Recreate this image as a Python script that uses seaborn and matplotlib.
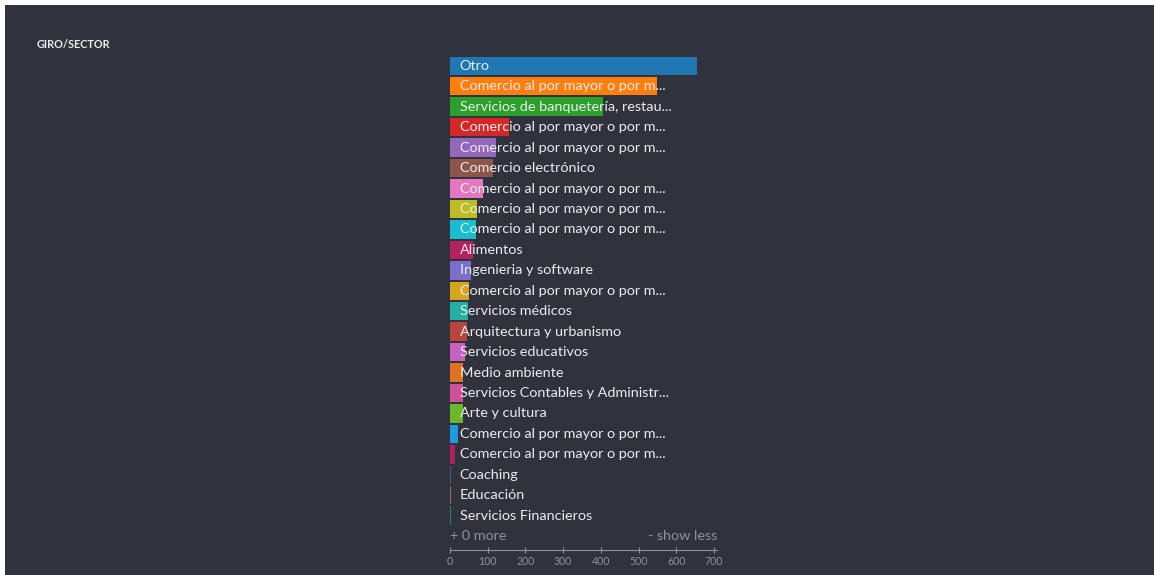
import matplotlib
matplotlib.use("Agg")
import matplotlib.pyplot as plt
import seaborn as sns
import pandas as pd

# ---- data ----
labels = [
    "Otro",
    "Comercio al por mayor o por m...",
    "Servicios de banquetería, restau...",
    "Comercio al por mayor o por m...",
    "Comercio al por mayor o por m...",
    "Comercio electrónico",
    "Comercio al por mayor o por m...",
    "Comercio al por mayor o por m...",
    "Comercio al por mayor o por m...",
    "Alimentos",
    "Ingenieria y software",
    "Comercio al por mayor o por m...",
    "Servicios médicos",
    "Arquitectura y urbanismo",
    "Servicios educativos",
    "Medio ambiente",
    "Servicios Contables y Administr...",
    "Arte y cultura",
    "Comercio al por mayor o por m...",
    "Comercio al por mayor o por m...",
    "Coaching",
    "Educación",
    "Servicios Financieros",
]
values = [655, 548, 405, 157, 122, 115, 88, 72, 68, 62, 56, 51, 49, 44, 40,
          35, 35, 34, 20, 13, 3, 3, 3]
colors = [
    "#1f77b4", "#ff7f0e", "#2ca02c", "#d62728", "#9467bd", "#8c564b",
    "#e377c2", "#bcbd22", "#17becf", "#b3215f", "#7b6fc9", "#d6a520",
    "#23b0a2", "#b9443b", "#c762c2", "#e07223", "#d0519b", "#6bb82d",
    "#1e9ade", "#b01f62", "#4a5582", "#9a6b3b", "#2a8272",
]
xticks = [0, 100, 200, 300, 400, 500, 600, 700]
title = "GIRO/SECTOR"
more_text = "+ 0 more"
less_text = "- show less"

BG = "#30333e"
W, H = 1154, 575

sns.set_theme(style="dark")
plt.rcParams["font.family"] = ["Lato", "DejaVu Sans"]

fig = plt.figure(figsize=(W / 100, H / 100), dpi=100)
fig.patch.set_facecolor(BG)
# small white margins at top and left
for r in [plt.Rectangle((0, 1 - 5 / H), 1, 5 / H),
          plt.Rectangle((0, 0), 5 / W, 1)]:
    r.set_transform(fig.transFigure)
    r.set_facecolor("white")
    r.set_edgecolor("none")
    r.set_linewidth(0)
    fig.add_artist(r)

# axes geometry in pixels
x0, x1 = 450, 717
y_top, y_axis = 55.6, 550.0
ax = fig.add_axes([x0 / W, 1 - y_axis / H, (x1 - x0) / W, (y_axis - y_top) / H])
ax.set_facecolor("none")

ids = [f"r{i}" for i in range(len(values))]
df = pd.DataFrame({"id": ids, "value": values, "label": labels})
sns.barplot(data=df, x="value", y="id", hue="id", palette=colors,
            orient="h", width=0.9, legend=False, ax=ax, saturation=1,
            linewidth=0, edgecolor="none")

row_step = 20.45
ax.set_ylim((y_axis - 65.8) / row_step, -(65.8 - y_top) / row_step)
ax.set_xlim(0, 708)

for i, lab in enumerate(labels):
    ax.text(26, i, lab, color="#ececec", fontsize=10.4, va="center",
            ha="left", zorder=5)

grey = "#8e919a"
ax.text(0, (535.5 - 65.8) / row_step, more_text, color=grey,
        fontsize=10.4, va="center", ha="left")
ax.text(1.0, (535.5 - 65.8) / row_step, less_text, color=grey,
        fontsize=10.4, va="center", ha="right",
        transform=ax.get_yaxis_transform())

ax.set_xticks(xticks)
ax.set_xticklabels([str(t) for t in xticks])
ax.set_yticks([])
ax.set_xlabel("")
ax.set_ylabel("")
for s in ["top", "right", "left"]:
    ax.spines[s].set_visible(False)
ax.spines["bottom"].set_color(grey)
ax.spines["bottom"].set_linewidth(0.8)
ax.tick_params(axis="x", colors=grey, labelsize=7.6, direction="inout",
               length=5, width=0.8, pad=1.5, bottom=True)
ax.grid(False)

fig.text(37 / W, 1 - 45 / H, title, color="#ececec", fontsize=7.8,
         fontweight="bold", va="center", ha="left")

fig.savefig("out.png", dpi=100, facecolor=fig.get_facecolor())
